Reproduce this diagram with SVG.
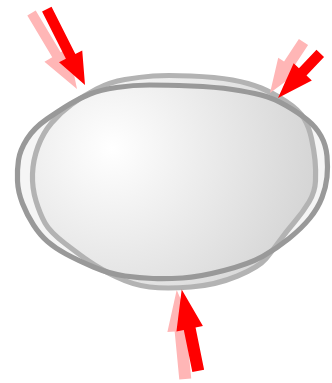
<svg xmlns="http://www.w3.org/2000/svg" xmlns:xlink="http://www.w3.org/1999/xlink" width="332" height="383" viewBox="0 0 332 383">
<style>
.dfill{fill:#f5f5f5;stroke:none}
.dstroke{fill:none;stroke:#999999;stroke-width:5.2;stroke-linejoin:round}
.light{fill:url(#grad);stroke:#b3b3b3;stroke-width:5.2;stroke-linejoin:round}
.red{fill:#ff0000}
.pink{fill:#ffb6b6}
</style>
<defs>
<radialGradient id="grad" gradientUnits="userSpaceOnUse" cx="112" cy="148" r="230">
<stop offset="0" stop-color="#ffffff"/>
<stop offset="1" stop-color="#d0d0d0"/>
</radialGradient>
<path id="deformed" d="M 191 86 Q 216 87 232.5 89.5 Q 249 92 261 95 Q 273 98 286 105.5 Q 299 113 307.5 120 Q 316 127 321 136 Q 326 145 327 156 Q 328 167 327 177 Q 326 187 322 197.5 Q 318 208 310 218 Q 302 228 289 238.5 Q 276 249 262.5 256.5 Q 249 264 224 270.5 Q 199 277 182.5 278 Q 166 279 153 278.5 Q 140 278 125 276 Q 110 274 93.5 267 Q 77 260 66 254 Q 55 248 47.5 241.5 Q 40 235 33.5 225 Q 27 215 22.5 203.5 Q 18 192 17.5 181 Q 17 170 18.5 160 Q 20 150 27 139 Q 34 128 47 119 Q 60 110 70 104 Q 80 98 90 94 Q 100 90 116.5 87.5 Q 133 85 149.5 85 Q 166 85 191 86 Z"/>
</defs>
<g id="body-deformed-fill">
<use xlink:href="#deformed" class="dfill"/>
</g>
<g id="body-original">
<path class="light" d="M 191 76 Q 216 77 232.5 80 Q 249 83 261 88 Q 273 93 286 101.5 Q 299 110 304 118.5 Q 309 127 311.5 138.5 Q 314 150 315 160 Q 316 170 315.5 181 Q 315 192 309 202 Q 303 212 294.5 222 Q 286 232 279.5 241 Q 273 250 266 258.5 Q 259 267 237.5 276 Q 216 285 191 287 Q 166 289 149.5 287 Q 133 285 116.5 277 Q 100 269 90 262 Q 80 255 65 243.5 Q 50 232 45 223 Q 40 214 36 201 Q 32 188 32.5 174 Q 33 160 38 146.5 Q 43 133 51.5 123 Q 60 113 71.5 104.5 Q 83 96 96.5 89 Q 110 82 125 79.5 Q 140 77 153 76 Q 166 75 191 76 Z"/>
</g>
<g id="body-deformed">
<use xlink:href="#deformed" class="dstroke"/>
</g>
<g id="forces">
<g id="force-top-left">
<polygon class="pink" transform="translate(77,89) rotate(59.1)" points="0,0 -40,-14 -40,-4.9 -88.6,-4.9 -88.6,4.9 -40,4.9 -40,14"/>
<polygon class="red" transform="translate(85,85) rotate(63.3)" points="0,0 -32,-13 -32,-5.3 -85,-5.3 -85,5.3 -32,5.3 -32,13"/>
</g>
<g id="force-top-right">
<polygon class="pink" transform="translate(270,93) rotate(123.3)" points="0,0 -34,-12.5 -34,-5.5 -61,-5.5 -61,5.5 -34,5.5 -34,12.5"/>
<polygon class="red" transform="translate(278,98) rotate(133.4)" points="0,0 -36,-12.5 -36,-5.2 -61.5,-5.2 -61.5,5.2 -36,5.2 -36,12.5"/>
</g>
<g id="force-bottom">
<polygon class="pink" transform="translate(176.7,290) rotate(-95.5)" points="0,0 -41,-13.3 -41,-6 -89.4,-6 -89.4,6 -41,6 -41,13.3"/>
<polygon class="red" transform="translate(181.7,289.5) rotate(-101.5)" points="0,0 -40,-13.5 -40,-6 -83,-6 -83,6 -40,6 -40,13.5"/>
</g>
</g>
</svg>
